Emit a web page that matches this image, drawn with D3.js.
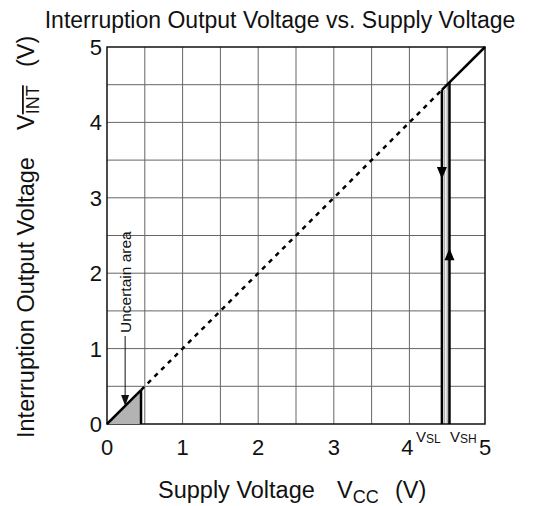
<!DOCTYPE html>
<html>
<head>
<meta charset="utf-8">
<script src="https://cdn.jsdelivr.net/npm/d3@7"></script>
<style>
body { margin: 0; background: #fff; }
text { font-family: "Liberation Sans", Arial, sans-serif; fill: #111; }
</style>
</head>
<body>
<div class="canvas"></div>
<script>
// data
const xTicks = [0, 1, 2, 3, 4, 5];
const yTicks = [0, 1, 2, 3, 4, 5];
const gridSteps = [0.5, 1, 1.5, 2, 2.5, 3, 3.5, 4, 4.5];
const uncertainEdge = 0.45;
const vsl = 4.43;
const vsh = 4.53;
const solidSegs = [[[0, 0], [uncertainEdge, uncertainEdge]], [[vsl, vsl], [5, 5]]];
const dashedSegs = [[[uncertainEdge, uncertainEdge], [vsl, vsl]]];
const downArrowAt = 3.25; // tip of arrow on V_SL line
const upArrowAt = 2.33;   // tip of arrow on V_SH line

const dims = { width: 552, height: 506 };
const plot = { left: 107, right: 485, top: 47, bottom: 424 };

const svg = d3.select('.canvas').append('svg')
  .attr('width', dims.width)
  .attr('height', dims.height);

const x = d3.scaleLinear().domain([0, 5]).range([plot.left, plot.right]);
const y = d3.scaleLinear().domain([0, 5]).range([plot.bottom, plot.top]);

// grid
const grid = svg.append('g');
grid.selectAll('.gx').data(gridSteps).enter().append('line')
  .attr('x1', d => x(d)).attr('x2', d => x(d))
  .attr('y1', y(0)).attr('y2', y(5))
  .attr('stroke', '#666').attr('stroke-width', 1);
grid.selectAll('.gy').data(gridSteps).enter().append('line')
  .attr('y1', d => y(d)).attr('y2', d => y(d))
  .attr('x1', x(0)).attr('x2', x(5))
  .attr('stroke', '#666').attr('stroke-width', 1);

// light band between V_SL and V_SH
svg.append('rect')
  .attr('x', x(vsl)).attr('width', x(vsh) - x(vsl))
  .attr('y', y(vsl)).attr('height', y(0) - y(vsl))
  .attr('fill', '#f2f2f2');
svg.append('line')
  .attr('x1', x(4.5)).attr('x2', x(4.5)).attr('y1', y(0)).attr('y2', y(vsl))
  .attr('stroke', '#999').attr('stroke-width', 1);
svg.append('line')
  .attr('x1', x((vsl + 4.5) / 2)).attr('x2', x((vsl + 4.5) / 2)).attr('y1', y(0)).attr('y2', y(vsl))
  .attr('stroke', '#aaa').attr('stroke-width', 1);

// frame
svg.append('rect')
  .attr('x', x(0)).attr('y', y(5))
  .attr('width', x(5) - x(0)).attr('height', y(0) - y(5))
  .attr('fill', 'none').attr('stroke', '#111').attr('stroke-width', 1.5);

// uncertain triangle
svg.append('path')
  .attr('d', d3.line()([[x(0), y(0)], [x(uncertainEdge), y(uncertainEdge)], [x(uncertainEdge), y(0)]]) + 'Z')
  .attr('fill', '#b3b3b3');
svg.append('line')
  .attr('x1', x(uncertainEdge)).attr('x2', x(uncertainEdge))
  .attr('y1', y(0)).attr('y2', y(uncertainEdge))
  .attr('stroke', '#000').attr('stroke-width', 2.5);

const line = d3.line().x(d => x(d[0])).y(d => y(d[1]));

svg.selectAll('.solid').data(solidSegs).enter().append('path')
  .attr('d', line).attr('fill', 'none')
  .attr('stroke', '#000').attr('stroke-width', 2.5);
svg.selectAll('.dashed').data(dashedSegs).enter().append('path')
  .attr('d', line).attr('fill', 'none')
  .attr('stroke', '#000').attr('stroke-width', 2.5)
  .attr('stroke-dasharray', '4.5,5');

// V_SL and V_SH vertical lines
svg.append('line')
  .attr('x1', x(vsl)).attr('x2', x(vsl)).attr('y1', y(0)).attr('y2', y(vsl))
  .attr('stroke', '#000').attr('stroke-width', 2.5);
svg.append('line')
  .attr('x1', x(vsh)).attr('x2', x(vsh)).attr('y1', y(0)).attr('y2', y(vsh))
  .attr('stroke', '#000').attr('stroke-width', 2.5);

// arrowheads
const arrowHead = (cx, tipY, dir, h = 12, w = 5) =>
  `M${cx},${tipY} L${cx - w},${tipY - dir * h} L${cx + w},${tipY - dir * h} Z`;
svg.append('path').attr('d', arrowHead(x(vsl), y(downArrowAt), 1)).attr('fill', '#000');
svg.append('path').attr('d', arrowHead(x(vsh), y(upArrowAt), -1)).attr('fill', '#000');

// tick labels
svg.selectAll('.xt').data(xTicks).enter().append('text')
  .attr('x', d => x(d) - (d === 4 ? 2 : 0)).attr('y', 455)
  .attr('text-anchor', 'middle')
  .attr('font-size', 22)
  .text(d => d);
svg.selectAll('.yt').data(yTicks).enter().append('text')
  .attr('x', 102).attr('y', d => y(d) + 8)
  .attr('text-anchor', 'end')
  .attr('font-size', 22)
  .text(d => d);

// V_SL / V_SH labels
const vlab = (xPos, sub) => {
  const t = svg.append('text').attr('x', xPos).attr('y', 442).attr('font-size', 15);
  t.append('tspan').text('V');
  t.append('tspan').attr('font-size', 12).attr('dy', 1).text(sub);
};
vlab(416, 'SL');
vlab(450, 'SH');

// uncertain area label + arrow
const ux = x(0.24);
svg.append('text')
  .attr('transform', `translate(${ux + 6}, 333) rotate(-90)`)
  .attr('font-size', 15.5)
  .text('Uncertain area');
svg.append('line')
  .attr('x1', ux).attr('x2', ux).attr('y1', 336).attr('y2', y(0.32))
  .attr('stroke', '#111').attr('stroke-width', 1);
svg.append('path').attr('d', arrowHead(ux, y(0.24), 1, 11, 4)).attr('fill', '#111');

// title
svg.append('text')
  .attr('x', 280).attr('y', 28)
  .attr('text-anchor', 'middle')
  .attr('font-size', 23)
  .text('Interruption Output Voltage vs. Supply Voltage');

// x axis title
const xt = svg.append('text')
  .attr('x', 158).attr('y', 498)
  .attr('font-size', 23.5);
xt.append('tspan').text('Supply Voltage');
xt.append('tspan').attr('x', 337).text('V');
xt.append('tspan').attr('font-size', 18).attr('dy', 5).text('CC');
xt.append('tspan').attr('x', 395).attr('dy', -5).text('(V)');

// y axis title
const yt = svg.append('text')
  .attr('transform', `translate(34, 438) rotate(-90)`)
  .attr('font-size', 23.5);
yt.append('tspan').attr('x', 0).text('Interruption Output Voltage');
yt.append('tspan').attr('x', 308).text('V');
yt.append('tspan').attr('font-size', 18).attr('dy', 5)
  .attr('text-decoration', 'overline').text('INT');
yt.append('tspan').attr('x', 371).attr('dy', -5).text('(V)');
</script>
</body>
</html>
